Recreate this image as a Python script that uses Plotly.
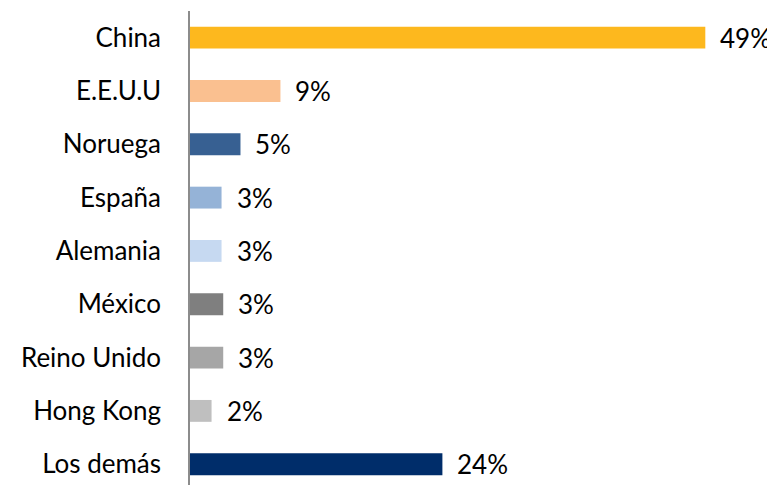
import plotly.graph_objects as go

paises = ["China", "E.E.U.U", "Noruega", "España", "Alemania", "México",
          "Reino Unido", "Hong Kong", "Los demás"]
participacion = [49.0, 8.6, 4.8, 3.0, 3.0, 3.16, 3.16, 2.05, 24.0]
colores = ["#FDB81E", "#FAC090", "#376092", "#95B3D7", "#C6D9F1",
           "#7F7F7F", "#A6A6A6", "#BFBFBF", "#002D6A"]

fuente = "Lato, 'Open Sans', sans-serif"

fig = go.Figure(go.Bar(
    x=participacion,
    y=paises,
    orientation="h",
    marker=dict(color=colores, line=dict(width=0)),
    width=0.41,
    hoverinfo="skip",
))

# etiquetas de porcentaje a la derecha de cada barra
for pais, valor in zip(paises, participacion):
    fig.add_annotation(
        x=valor, y=pais,
        text=f"{round(valor)}%",
        showarrow=False,
        xanchor="left",
        xshift=13,
        font=dict(family=fuente, size=26, color="#000000"),
    )

# la pagina deja 8px de margen en el body, por eso el lienzo es 8px menor
fig.update_layout(
    width=767,
    height=477,
    margin=dict(l=182, r=15, t=3, b=0),
    plot_bgcolor="white",
    paper_bgcolor="white",
    showlegend=False,
    font=dict(family=fuente, size=26, color="#000000"),
)

fig.update_xaxes(
    range=[0, 54.2],
    visible=False,
    showgrid=False,
    zeroline=False,
)

fig.update_yaxes(
    range=[8.39, -0.5],
    showgrid=False,
    zeroline=False,
    showline=True,
    linecolor="#8C8C8C",
    linewidth=1.5,
    ticks="",
    ticklabelstandoff=22,
)

fig.write_html("out.html")
